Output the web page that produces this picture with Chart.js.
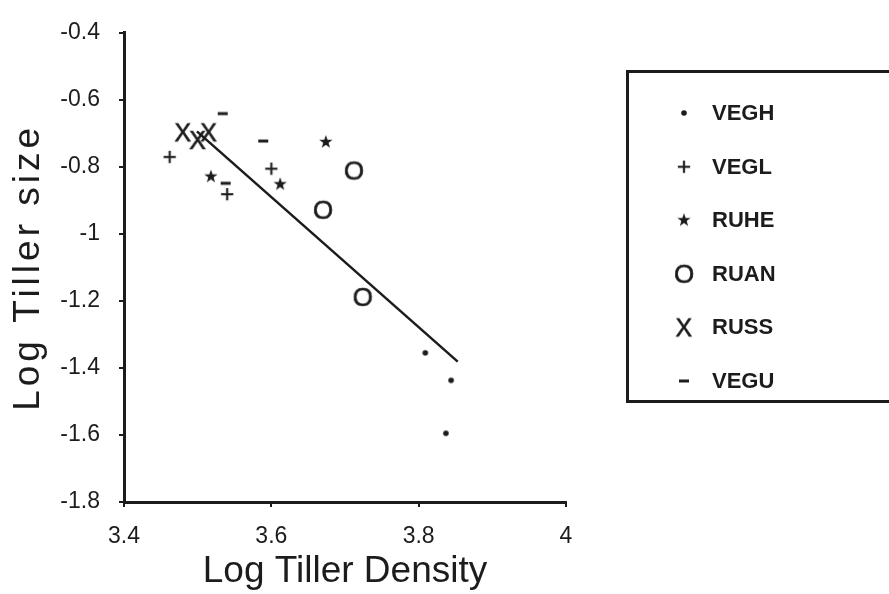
<!DOCTYPE html>
<html lang="en">
<head>
  <meta charset="UTF-8" />
  <title>Log Tiller size vs Log Tiller Density</title>
  <script src="https://cdn.jsdelivr.net/npm/chart.js"></script>
  <style>
    body { margin: 0; background: #fff; }
    #wrap { width: 889px; height: 594px; }
  </style>
</head>
<body>
  <div id="wrap"><canvas id="tillerChart"></canvas></div>

  <script>
    // values
    const VEGH = [{x: 3.809, y: -1.355}, {x: 3.844, y: -1.437}, {x: 3.837, y: -1.595}];
    const VEGL = [{x: 3.462, y: -0.770}, {x: 3.540, y: -0.881}, {x: 3.600, y: -0.805}];
    const RUHE = [{x: 3.518, y: -0.829}, {x: 3.612, y: -0.852}, {x: 3.674, y: -0.726}];
    const RUAN = [{x: 3.712, y: -0.811}, {x: 3.670, y: -0.928}, {x: 3.724, y: -1.188}];
    const RUSS = [{x: 3.480, y: -0.697}, {x: 3.500, y: -0.720}, {x: 3.515, y: -0.697}];
    const VEGU = [{x: 3.534, y: -0.641}, {x: 3.589, y: -0.723}, {x: 3.538, y: -0.849}];
    const fitLine = [{x: 3.499, y: -0.694}, {x: 3.853, y: -1.381}];

    const xTicks = [3.4, 3.6, 3.8, 4];
    const xTickLabels = ["3.4", "3.6", "3.8", "4"];
    const yTicks = [-1.8, -1.6, -1.4, -1.2, -1, -0.8, -0.6, -0.4];
    const yTickLabels = ["-1.8", "-1.6", "-1.4", "-1.2", "-1", "-0.8", "-0.6", "-0.4"];

    const INK = "#1c1c1c";
    const FONT = '"Liberation Sans", Arial, sans-serif';

    // little canvases used as point styles (the figure uses typed glyphs)
    function glyph(kind) {
      const c = document.createElement("canvas");
      c.width = 28; c.height = 28;
      const g = c.getContext("2d");
      g.fillStyle = INK;
      g.strokeStyle = INK;
      if (kind === "dot") {
        g.beginPath(); g.arc(14, 14, 2.8, 0, Math.PI * 2); g.fill();
      } else if (kind === "dash") {
        g.fillRect(9, 12.5, 10, 3);
      } else if (kind === "star") {
        g.beginPath();
        for (let i = 0; i < 10; i++) {
          const r = i % 2 ? 2.8 : 7;
          const a = -Math.PI / 2 + i * Math.PI / 5;
          g.lineTo(14 + r * Math.cos(a), 14 + r * Math.sin(a));
        }
        g.closePath(); g.fill();
      } else {
        const size = kind === "O" ? 26 : (kind === "X" ? 25 : 24);
        g.font = size + "px " + FONT;
        g.lineWidth = 0.6;
        const m = g.measureText(kind);
        const w = m.actualBoundingBoxLeft + m.actualBoundingBoxRight;
        const h = m.actualBoundingBoxAscent + m.actualBoundingBoxDescent;
        const px = 14 - w / 2 + m.actualBoundingBoxLeft;
        const py = 14 - h / 2 + m.actualBoundingBoxAscent;
        g.fillText(kind, px, py);
        g.strokeText(kind, px, py);
      }
      return c;
    }

    const markerSet = (label, data, style) => ({
      label: label,
      data: data,
      pointStyle: glyph(style),
      pointRadius: 6,
      showLine: false
    });

    const boxLegend = {
      id: "boxLegend",
      afterDraw(chart) {
        const ctx = chart.ctx;
        ctx.save();
        ctx.strokeStyle = INK;
        ctx.lineWidth = 3;
        ctx.strokeRect(627.5, 71.5, 300, 330);
        ctx.fillStyle = INK;
        ctx.font = "bold 22px " + FONT;
        ctx.textBaseline = "middle";
        chart.data.datasets.forEach((ds, i) => {
          if (!ds.pointStyle || ds.type === "line") return;
          const y = 113 + i * 53.6;
          const img = ds.pointStyle;
          ctx.drawImage(img, 684 - img.width / 2, y - img.height / 2);
          ctx.fillText(ds.label, 712, y + 1);
        });
        ctx.restore();
      }
    };

    // stretch the y title a bit, as in the scan
    const spacedTitle = {
      id: "spacedTitle",
      afterLayout(chart) {
        const s = chart.scales.y;
        if (s._spaced) return;
        const orig = s.drawTitle;
        s.drawTitle = function () {
          this.ctx.save();
          this.ctx.letterSpacing = "4px";
          orig.call(this);
          this.ctx.restore();
        };
        s._spaced = true;
      }
    };

    new Chart(document.getElementById("tillerChart"), {
      type: "scatter",
      data: {
        datasets: [
          markerSet("VEGH", VEGH, "dot"),
          markerSet("VEGL", VEGL, "+"),
          markerSet("RUHE", RUHE, "star"),
          markerSet("RUAN", RUAN, "O"),
          markerSet("RUSS", RUSS, "X"),
          markerSet("VEGU", VEGU, "dash"),
          {
            type: "line",
            label: "fit",
            data: fitLine,
            borderColor: INK,
            borderWidth: 2.5,
            pointRadius: 0,
            fill: false
          }
        ]
      },
      options: {
        responsive: true,
        maintainAspectRatio: false,
        animation: false,
        layout: { padding: { top: 23, right: 323, left: 0, bottom: 0 } },
        plugins: {
          legend: { display: false },
          tooltip: { enabled: false }
        },
        scales: {
          x: {
            type: "linear",
            min: 3.4,
            max: 4,
            afterBuildTicks: axis => { axis.ticks = xTicks.map(v => ({ value: v })); },
            afterFit: axis => { axis.height = 92; },
            border: { display: true, width: 3, color: INK },
            grid: { drawOnChartArea: false, drawTicks: true, tickLength: 5, color: INK, lineWidth: 2 },
            ticks: {
              color: INK,
              font: { family: FONT, size: 23 },
              padding: 16,
              maxRotation: 0,
              callback: (v, i) => xTickLabels[i]
            },
            title: {
              display: true,
              text: "Log Tiller Density",
              color: INK,
              font: { family: FONT, size: 37 },
              padding: { top: 0, bottom: 0 }
            }
          },
          y: {
            type: "linear",
            min: -1.8,
            max: -0.4,
            afterBuildTicks: axis => { axis.ticks = yTicks.map(v => ({ value: v })); },
            afterFit: axis => { axis.width = 124; },
            border: { display: true, width: 3, color: INK },
            grid: { drawOnChartArea: false, drawTicks: true, tickLength: 5, color: INK, lineWidth: 2 },
            ticks: {
              color: INK,
              font: { family: FONT, size: 23 },
              padding: 19,
              callback: (v, i) => yTickLabels[i]
            },
            title: {
              display: true,
              text: "Log Tiller size",
              color: INK,
              font: { family: FONT, size: 37 },
              padding: { top: 7, bottom: 0 }
            }
          }
        }
      },
      plugins: [boxLegend, spacedTitle]
    });
  </script>
</body>
</html>
